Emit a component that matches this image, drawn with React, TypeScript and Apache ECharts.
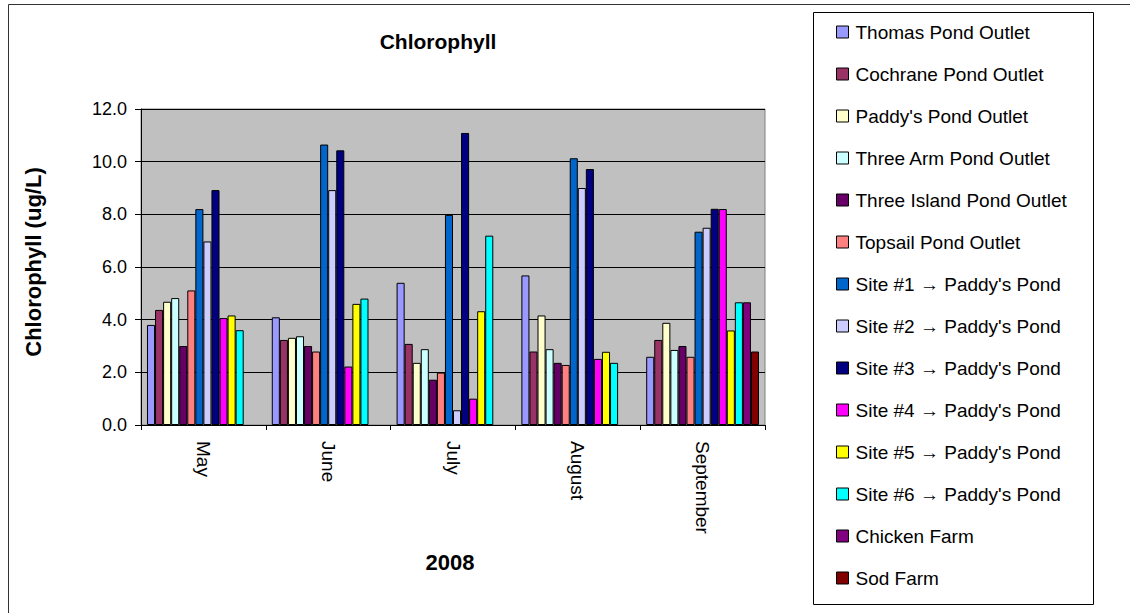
import React, { useEffect, useRef } from "react";
import * as echarts from "echarts";

const months = ["May", "June", "July", "August", "September"];
const seriesNames = [
  "Thomas Pond Outlet",
  "Cochrane Pond Outlet",
  "Paddy's Pond Outlet",
  "Three Arm Pond Outlet",
  "Three Island Pond Outlet",
  "Topsail Pond Outlet",
  "Site #1 \u2192 Paddy's Pond",
  "Site #2 \u2192 Paddy's Pond",
  "Site #3 \u2192 Paddy's Pond",
  "Site #4 \u2192 Paddy's Pond",
  "Site #5 \u2192 Paddy's Pond",
  "Site #6 \u2192 Paddy's Pond",
  "Chicken Farm",
  "Sod Farm",
];
const colors = [
  "#9999FF", "#993366", "#FFFFCC", "#CCFFFF", "#660066", "#FF8080", "#0066CC",
  "#CCCCFF", "#000080", "#FF00FF", "#FFFF00", "#00FFFF", "#800080", "#800000",
];

const thomasPond = [3.8, 4.09, 5.4, 5.68, 2.59];
const cochranePond = [4.37, 3.23, 3.08, 2.79, 3.23];
const paddysPond = [4.68, 3.31, 2.36, 4.16, 3.88];
const threeArmPond = [4.82, 3.37, 2.88, 2.88, 2.85];
const threeIslandPond = [3.0, 3.0, 1.72, 2.36, 3.0];
const topsailPond = [5.11, 2.79, 1.99, 2.28, 2.59];
const site1 = [8.2, 10.65, 7.98, 10.13, 7.34];
const site2 = [6.97, 8.92, 0.56, 9.0, 7.49];
const site3 = [8.92, 10.43, 11.09, 9.72, 8.21];
const site4 = [4.06, 2.22, 1.0, 2.51, 8.2];
const site5 = [4.16, 4.6, 4.32, 2.78, 3.59];
const site6 = [3.6, 4.8, 7.19, 2.36, 4.66];
const chickenFarm = [null, null, null, null, 4.66];
const sodFarm = [null, null, null, null, 2.79];

const allData = [
  thomasPond, cochranePond, paddysPond, threeArmPond, threeIslandPond, topsailPond,
  site1, site2, site3, site4, site5, site6, chickenFarm, sodFarm,
];

const yTicks = { min: 0, max: 12, interval: 2 };

const FONT = "'Liberation Sans', Arial, sans-serif";

export default function App() {
  const ref = useRef<HTMLDivElement>(null);
  useEffect(() => {
    if (!ref.current) return;
    const chart = echarts.init(ref.current, null, { renderer: "svg" });
    chart.setOption({
      animation: false,
      backgroundColor: "#FFFFFF",
      textStyle: { fontFamily: FONT },
      grid: {
        left: 141,
        top: 109,
        width: 624,
        height: 316,
        show: true,
        backgroundColor: "#C0C0C0",
        borderColor: "#808080",
        borderWidth: 1,
      },
      legend: {
        orient: "vertical",
        left: 836,
        top: 22,
        padding: 0,
        itemWidth: 12,
        itemHeight: 12,
        itemGap: 22,
        icon: "rect",
        data: seriesNames,
        itemStyle: { borderColor: "#000", borderWidth: 1 },
        textStyle: { fontSize: 19, lineHeight: 20, color: "#000", fontFamily: FONT, padding: [0, 0, 0, 2] },
      },
      xAxis: {
        type: "category",
        data: months,
        axisLine: { show: true, lineStyle: { color: "#000", width: 1 } },
        axisTick: { show: true, length: 5, lineStyle: { color: "#000" } },
        axisLabel: { rotate: -90, fontSize: 19, color: "#000", margin: 16, interval: 0, fontFamily: FONT },
        splitLine: { show: false },
      },
      yAxis: {
        type: "value",
        min: yTicks.min,
        max: yTicks.max,
        interval: yTicks.interval,
        axisLine: { show: true, lineStyle: { color: "#000", width: 1 } },
        axisTick: { show: true, length: 6, lineStyle: { color: "#000" } },
        axisLabel: {
          fontSize: 18,
          color: "#000",
          margin: 14,
          fontFamily: FONT,
          formatter: (v: number) => v.toFixed(1),
        },
        splitLine: { show: true, lineStyle: { color: "#000", width: 1 } },
      },
      series: seriesNames.map((name, i) => ({
        name,
        type: "bar",
        data: allData[i],
        barGap: "0%",
        barCategoryGap: "9.6%",
        itemStyle: { color: colors[i], borderColor: "#000", borderWidth: 1 },
      })),
      graphic: [
        {
          type: "rect",
          z: -10,
          silent: true,
          shape: { x: 8.5, y: 4.5, width: 1200, height: 700 },
          style: { fill: "none", stroke: "#333", lineWidth: 1 },
        },
        {
          type: "rect",
          z: 0,
          silent: true,
          shape: { x: 813.5, y: 12.5, width: 280, height: 592 },
          style: { fill: "#fff", stroke: "#000", lineWidth: 1 },
        },
        {
          type: "text",
          x: 438,
          y: 41,
          silent: true,
          style: {
            text: "Chlorophyll",
            fontSize: 21,
            fontWeight: "bold",
            fontFamily: FONT,
            fill: "#000",
            align: "center",
            verticalAlign: "middle",
          },
        },
        {
          type: "text",
          x: 33,
          y: 262,
          rotation: Math.PI / 2,
          silent: true,
          style: {
            text: "Chlorophyll (ug/L)",
            fontSize: 22,
            fontWeight: "bold",
            fontFamily: FONT,
            fill: "#000",
            align: "center",
            verticalAlign: "middle",
          },
        },
        {
          type: "text",
          x: 450,
          y: 562,
          silent: true,
          style: {
            text: "2008",
            fontSize: 22,
            fontWeight: "bold",
            fontFamily: FONT,
            fill: "#000",
            align: "center",
            verticalAlign: "middle",
          },
        },
      ],
    });
    return () => chart.dispose();
  }, []);
  return (
    <div
      ref={ref}
      style={{ position: "absolute", left: 0, top: 0, width: 1130, height: 613, background: "#fff" }}
    />
  );
}
